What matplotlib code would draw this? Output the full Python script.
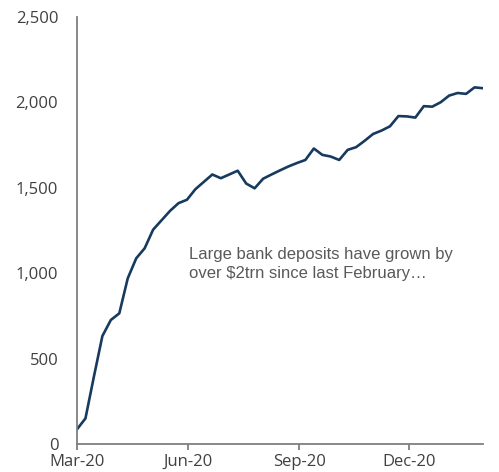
import matplotlib
matplotlib.use("Agg")
import matplotlib.pyplot as plt
import numpy as np
import pandas as pd

start_date = "2020-03-01"
values = [86, 150, 395, 632, 726, 765, 970, 1087, 1146, 1255,
          1310, 1365, 1410, 1430, 1492, 1535, 1578, 1556, 1578, 1600,
          1525, 1497, 1553, 1578, 1602, 1625, 1645, 1663, 1730, 1693,
          1683, 1663, 1722, 1738, 1775, 1815, 1835, 1860, 1920, 1918,
          1911, 1978, 1975, 2001, 2040, 2055, 2050, 2088, 2083]
dates = pd.date_range(start_date, periods=len(values), freq="7D")
yticks = [0, 500, 1000, 1500, 2000, 2500]
xtick_dates = ["2020-03-01", "2020-06-01", "2020-09-01", "2020-12-01"]
xtick_labels = ["Mar-20", "Jun-20", "Sep-20", "Dec-20"]
note = "Large bank deposits have grown by\nover $2trn since last February\u2026"

fig = plt.figure(figsize=(4.99, 4.72), dpi=100)
ax = fig.add_axes([77/499, 1-444/472, (483-77)/499, (444-17)/472])
ax.plot(dates, values, color="#173a5e", lw=1.9, solid_joinstyle="round")

ax.set_ylim(0, 2500)
ax.set_xlim(dates[0], dates[-1])
ax.set_yticks(yticks)
ax.set_yticklabels([f"{v:,}" for v in yticks])
ax.set_xticks(pd.to_datetime(xtick_dates))
ax.set_xticklabels(xtick_labels)

for s in ["top", "right"]:
    ax.spines[s].set_visible(False)
for s in ["left", "bottom"]:
    ax.spines[s].set_color("#7f7f7f")
    ax.spines[s].set_linewidth(1.3)

ax.tick_params(axis="y", length=0, pad=13.5, labelsize=12, labelcolor="#404040")
ax.tick_params(axis="x", length=4, width=1.3, color="#7f7f7f", pad=3,
               labelsize=12, labelcolor="#404040")
for lab in ax.get_xticklabels() + ax.get_yticklabels():
    lab.set_fontfamily("Open Sans")

ax.text(189/499, 1-247/472, note, transform=fig.transFigure, ha="left", va="top",
        fontsize=12, color="#595959", family="Liberation Sans", linespacing=1.3)

fig.savefig("out.png", dpi=100)
